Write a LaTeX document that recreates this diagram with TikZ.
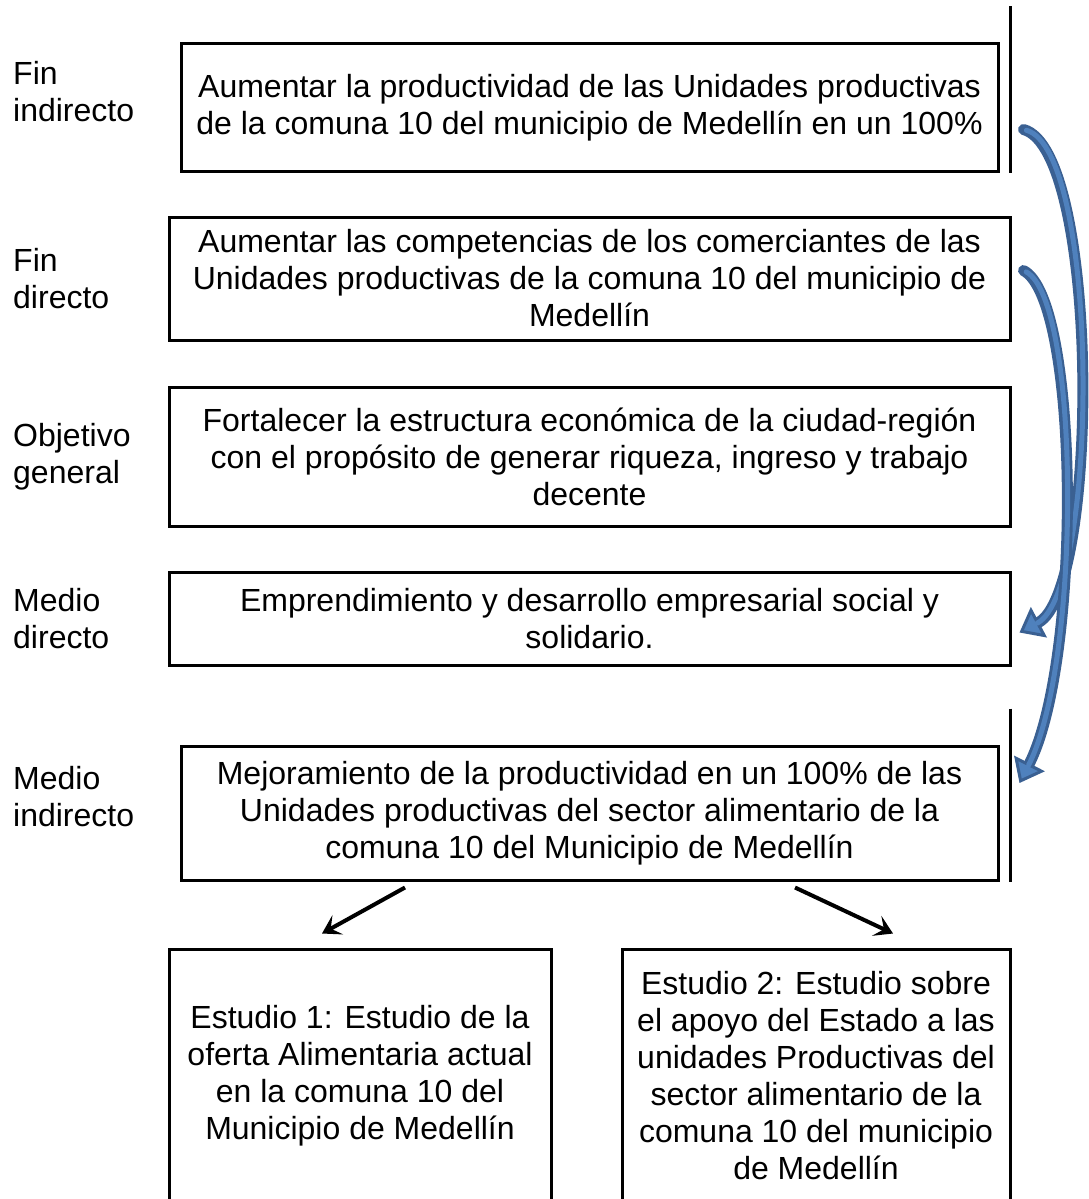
\documentclass[tikz,border=0pt]{standalone}
\usepackage{fontspec}
\setmainfont{Liberation Sans}
\usepackage{xcolor}
\usetikzlibrary{positioning, calc, arrows.meta}
\definecolor{arrowedge}{HTML}{3A6092}
\definecolor{arrowfill}{HTML}{4F81BD}
\begin{document}
\begin{tikzpicture}[
  x=1pt, y=1pt,
  every node/.style={font=\fontsize{32}{37}\selectfont},
  box/.style={draw, line width=3pt, align=center, inner sep=4pt},
  lbl/.style={anchor=west, align=left, inner sep=0pt},
  sideline/.style={line width=3pt},
  downarrow/.style={line width=4pt, -{Stealth[length=18pt,width=22pt,inset=8pt]}},
  bluearrow/.style={draw=arrowedge, line width=11pt, line cap=round,
    -{Triangle[length=22pt,width=34pt,fill=arrowfill,line width=3pt]},
    postaction={draw=arrowfill, line width=5pt, shorten >=20pt, shorten <=3pt, -}}
]
\useasboundingbox (0,0) rectangle (1088,-1199);

% Objective tree
\node[box, minimum width=817pt, minimum height=127pt] (finind) at (589.5,-107.5)
  {Aumentar la productividad de las Unidades productivas\\de la comuna 10 del municipio de Medellín en un 100\%};
\node[box, below=43pt of finind, minimum width=841pt, minimum height=123pt] (findir)
  {Aumentar las competencias de los comerciantes de las\\Unidades productivas de la comuna 10 del municipio de\\Medellín};
\node[box, below=44pt of findir, minimum width=841pt, minimum height=139pt] (objgen)
  {Fortalecer la estructura económica de la ciudad-región\\con el propósito de generar riqueza, ingreso y trabajo\\decente};
\node[box, below=43pt of objgen, minimum width=841pt, minimum height=93pt] (meddir)
  {Emprendimiento y desarrollo empresarial social y\\solidario.};
\node[box, below=78pt of meddir, minimum width=817pt, minimum height=134pt] (medind)
  {Mejoramiento de la productividad en un 100\% de las\\Unidades productivas del sector alimentario de la\\comuna 10 del Municipio de Medellín};
\node[box, below=66pt of medind.south west, anchor=north west, xshift=-12pt,
  minimum width=382pt, minimum height=254pt] (est1)
  {Estudio 1: Estudio de la\\oferta Alimentaria actual\\en la comuna 10 del\\Municipio de Medellín};
\node[box, below=66pt of medind.south east, anchor=north east, xshift=12pt,
  minimum width=388pt, minimum height=254pt] (est2)
  {Estudio 2: Estudio sobre\\el apoyo del Estado a las\\unidades Productivas del\\sector alimentario de la\\comuna 10 del municipio\\de Medellín};

% Row labels
\coordinate (lx) at (13,0);
\node[lbl, yshift=16pt] (lfinind) at (finind -| lx) {Fin\\indirecto};
\node[lbl] (lfindir) at (findir -| lx) {Fin\\directo};
\node[lbl] (lobjgen) at (objgen -| lx) {Objetivo\\general};
\node[lbl] (lmeddir) at (meddir -| lx) {Medio\\directo};
\node[lbl, yshift=16pt] (lmedind) at (medind -| lx) {Medio\\indirecto};

% Side lines
\draw[sideline] ($(finind.north east)+(11,36)$) -- ($(finind.south east)+(11,0)$);
\draw[sideline] ($(medind.north east)+(11,36)$) -- ($(medind.south east)+(11,0)$);

% Curved arrows
\coordinate (c1s) at ($(finind.east)+(24,-22)$);
\coordinate (c1e) at ($(meddir.east)+(8,-14)$);
\coordinate (c2s) at ($(findir.east)+(12,8)$);
\coordinate (c2e) at ($(medind.east)+(20,30)$);
\draw[bluearrow] (c1s) .. controls (1100,-150) and (1100,-590) .. (c1e);
\draw[bluearrow] (c2s) .. controls (1080,-300) and (1082,-660) .. (c2e);

% Arrows to studies
\coordinate (a1s) at ($(medind.south)+(-184.5,-6)$);
\coordinate (a1e) at ($(est1.north)+(-38,14)$);
\coordinate (a2s) at ($(medind.south)+(205.5,-6)$);
\coordinate (a2e) at ($(est2.north)+(77,14)$);
\draw[downarrow] (a1s) -- (a1e);
\draw[downarrow] (a2s) -- (a2e);

\end{tikzpicture}
\end{document}
